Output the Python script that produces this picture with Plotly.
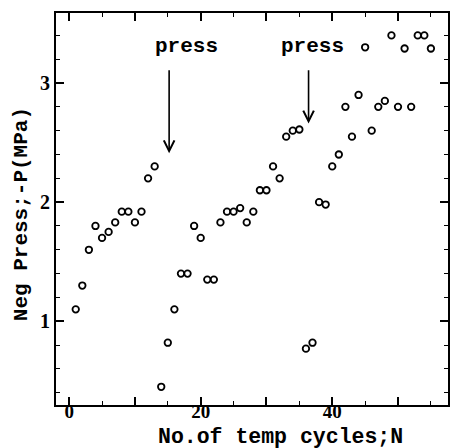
import plotly.graph_objects as go

# Data
cycles = list(range(1, 56))
neg_press = [1.10, 1.30, 1.60, 1.80, 1.70, 1.75, 1.83, 1.92, 1.92, 1.83,
             1.92, 2.20, 2.30, 0.45, 0.82, 1.10, 1.40, 1.40, 1.80, 1.70,
             1.35, 1.35, 1.83, 1.92, 1.92, 1.95, 1.83, 1.92, 2.10, 2.10,
             2.30, 2.20, 2.55, 2.60, 2.61, 0.77, 0.82, 2.00, 1.98, 2.30,
             2.40, 2.80, 2.55, 2.90, 3.30, 2.60, 2.80, 2.85, 3.40, 2.80,
             3.29, 2.80, 3.40, 3.40, 3.29]

press_x = [15.2, 36.4]
press_tip = [2.41, 2.66]
press_tail = [3.12, 3.12]
press_label_x = [17.9, 37.0]
press_label_y = 3.31

x_tickvals = [0, 10, 20, 30, 40, 50]
x_ticktext = ["0", "", "20", "", "40", ""]
y_tickvals = [1, 2, 3]
y_ticktext = ["1", "2", "3"]

mono = "Liberation Mono"
serif = "Liberation Serif"

fig = go.Figure()
fig.add_trace(go.Scatter(
    x=cycles, y=neg_press, mode="markers",
    marker=dict(symbol="circle-open", size=6.5, color="black",
                line=dict(width=1.8, color="black")),
    showlegend=False, hoverinfo="skip"))

annotations = []
for xa, tip, tail, lx in zip(press_x, press_tip, press_tail, press_label_x):
    annotations.append(dict(
        x=xa, y=tip, ax=xa, ay=tail, xref="x", yref="y", axref="x", ayref="y",
        text="", showarrow=True, arrowhead=5, arrowsize=1.3, arrowwidth=1.6,
        arrowcolor="black"))
    annotations.append(dict(
        x=lx, y=press_label_y, xref="x", yref="y", text="<b>press</b>",
        showarrow=False, font=dict(family=mono, size=21, color="black"),
        xanchor="center", yanchor="middle"))

annotations.append(dict(
    x=0.573, y=-0.081, xref="paper", yref="paper",
    text="<b>No.of temp cycles;N</b>", showarrow=False,
    font=dict(family=mono, size=21.5, color="black"),
    xanchor="center", yanchor="middle"))
annotations.append(dict(
    x=-0.089, y=0.487, xref="paper", yref="paper",
    text="<b>Neg Press;-P(MPa)</b>", showarrow=False, textangle=-90,
    font=dict(family=mono, size=21, color="black"),
    xanchor="center", yanchor="middle"))

fig.update_layout(
    width=454, height=448,
    margin=dict(l=56, r=4, t=13, b=43),
    paper_bgcolor="white", plot_bgcolor="white",
    annotations=annotations,
    xaxis=dict(range=[-2.0, 57.6], tickvals=x_tickvals, ticktext=x_ticktext,
               ticks="inside", ticklen=8, tickwidth=1.5, tickcolor="black",
               showline=True, linewidth=2, linecolor="black", mirror="allticks",
               showgrid=False, zeroline=False, ticklabelstandoff=-12,
               tickfont=dict(family=serif, size=19, color="black", weight="bold"),
               minor=dict(dtick=5, tick0=0, ticks="inside", ticklen=4,
                          tickwidth=1.2, tickcolor="black", showgrid=False)),
    yaxis=dict(range=[0.297, 3.588], tickvals=y_tickvals, ticktext=y_ticktext,
               ticks="inside", ticklen=8, tickwidth=1.5, tickcolor="black",
               showline=True, linewidth=2, linecolor="black", mirror="allticks",
               showgrid=False, zeroline=False,
               tickfont=dict(family=serif, size=20, color="black", weight="bold"),
               minor=dict(dtick=0.2, tick0=0, ticks="inside", ticklen=4,
                          tickwidth=1.2, tickcolor="black", showgrid=False)),
)

fig.write_html("out.html")
